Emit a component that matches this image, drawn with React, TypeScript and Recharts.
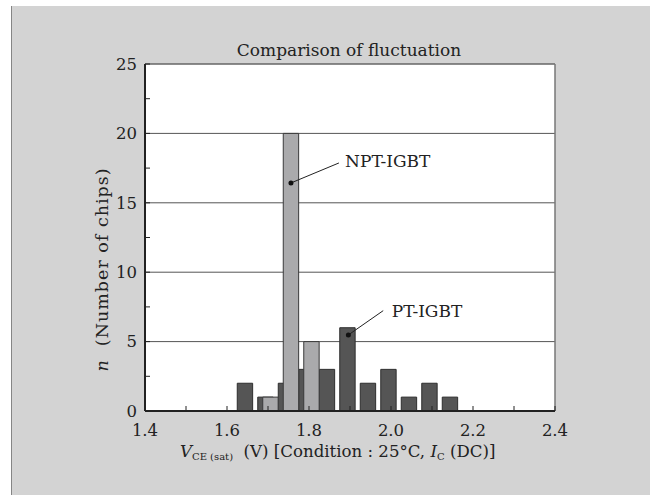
import React from 'react';
import { BarChart, Bar, XAxis, YAxis, CartesianGrid, ReferenceLine, ReferenceDot } from 'recharts';

const voltages = [1.65, 1.7, 1.75, 1.8, 1.85, 1.9, 1.95, 2.0, 2.05, 2.1, 2.15];
const ptCounts = [2, 1, 2, 3, 3, 6, 2, 3, 1, 2, 1];
const nptCounts: (number | null)[] = [null, 1, 20, 5, null, null, null, null, null, null, null];
const xTicks = [1.4, 1.5, 1.6, 1.7, 1.8, 1.9, 2.0, 2.1, 2.2, 2.3, 2.4];
const yTicks = [0, 2.5, 5, 7.5, 10, 12.5, 15, 17.5, 20, 22.5, 25];
const gridValues = [5, 10, 15, 20];
const titleText = 'Comparison of fluctuation';
const annotations = [
  { label: 'NPT-IGBT', dot: { x: 1.756, y: 16.43 }, end: { x: 1.873, y: 17.87 }, text: { x: 1.888, y: 17.58 } },
  { label: 'PT-IGBT', dot: { x: 1.896, y: 5.48 }, end: { x: 1.981, y: 7.23 }, text: { x: 2.002, y: 6.79 } },
];

const data = voltages.map((v, i) => ({ v, pt: ptCounts[i], npt: nptCounts[i] }));

const FONT = '"DejaVu Serif", serif';
const TEXT = '#222';

const fmtX = (t: number) => (Math.round(t * 10) % 2 === 0 ? t.toFixed(1) : '');
const fmtY = (t: number) => (t % 5 === 0 ? String(t) : '');

const XTitle = (props: any) => {
  const vb = props.viewBox || { x: 0, y: 0, width: 0, height: 0 };
  return (
    <text x={vb.x + 35} y={vb.y + 46} fontFamily={FONT} fontSize={16.6} fill={TEXT} style={{ whiteSpace: 'pre' }}>
      <tspan fontStyle="italic">V</tspan>
      <tspan fontSize={10} dy={3}>{'CE (sat)'}</tspan>
      <tspan dy={-3}>{'  (V) [Condition : 25°C, '}</tspan>
      <tspan fontStyle="italic">I</tspan>
      <tspan fontSize={10} dy={3}>C</tspan>
      <tspan dy={-3}>{' (DC)]'}</tspan>
    </text>
  );
};

const YTitle = (props: any) => {
  const vb = props.viewBox || { x: 0, y: 0, width: 0, height: 0 };
  const cx = vb.x + 17;
  const cy = vb.y + vb.height / 2 + 32;
  return (
    <text x={cx} y={cy} transform={`rotate(-90, ${cx}, ${cy})`} textAnchor="middle" dominantBaseline="central"
      fontFamily={FONT} fontSize={17.5} letterSpacing={1} fill={TEXT} style={{ whiteSpace: 'pre' }}>
      <tspan fontStyle="italic">n</tspan>
      <tspan>{'  (Number of chips)'}</tspan>
    </text>
  );
};

const labelShape = (text: string) => (p: any) => (
  <text x={p.cx} y={p.cy} fontFamily={FONT} fontSize={17} fill={TEXT}>{text}</text>
);

export default function App() {
  return (
    <div style={{ position: 'absolute', left: 0, top: 0, width: 650, height: 495, background: '#fff' }}>
      <div style={{ position: 'absolute', left: 11, top: 6, width: 638, height: 489, background: '#d3d3d3', borderLeft: '1px solid #858585' }} />
      <div style={{ position: 'absolute', left: 0, top: 40, width: 650, textAlign: 'center', fontFamily: FONT, fontSize: 17, lineHeight: 'normal', color: TEXT }}>
        <span style={{ position: 'relative', left: 24 }}>{titleText}</span>
      </div>
      <div style={{ position: 'absolute', left: 0, top: 0 }}>
        <BarChart width={650} height={495} data={data} margin={{ top: 64, right: 95, bottom: 54, left: 85 }}
          barSize={15.4} barGap={-10.4}>
          <CartesianGrid horizontal={true} vertical={false} horizontalValues={gridValues} stroke="#555" strokeWidth={1} fill="#ffffff" fillOpacity={1} />
          <XAxis dataKey="v" type="number" domain={[1.4, 2.4]} ticks={xTicks} interval={0} allowDataOverflow
            tickFormatter={fmtX} tickSize={-5} tickMargin={18} height={30}
            axisLine={{ stroke: '#222', strokeWidth: 2 }} tickLine={{ stroke: '#222', strokeWidth: 1 }}
            tick={{ fontFamily: FONT, fontSize: 16.5, fill: TEXT }} label={{ content: XTitle }} />
          <YAxis type="number" domain={[0, 25]} ticks={yTicks} interval={0} allowDataOverflow
            tickFormatter={fmtY} tickSize={-5} tickMargin={13} width={60}
            axisLine={{ stroke: '#222', strokeWidth: 2 }} tickLine={{ stroke: '#222', strokeWidth: 1 }}
            tick={{ fontFamily: FONT, fontSize: 16.5, fill: TEXT }} label={{ content: YTitle }} />
          <ReferenceLine y={25} stroke="#666" strokeWidth={1.5} ifOverflow="extendDomain" />
          <ReferenceLine x={2.4} stroke="#777" strokeWidth={1.5} ifOverflow="extendDomain" />
          <Bar dataKey="pt" fill="#555555" stroke="#2e2e2e" strokeWidth={1} isAnimationActive={false} />
          <Bar dataKey="npt" fill="#aaaaac" stroke="#3a3a3a" strokeWidth={1} isAnimationActive={false} />
          {annotations.map((a) => (
            <ReferenceLine key={a.label + 'l'} segment={[a.dot, a.end]} stroke="#222" strokeWidth={1} ifOverflow="visible" />
          ))}
          {annotations.map((a) => (
            <ReferenceDot key={a.label + 'd'} x={a.dot.x} y={a.dot.y} r={2.5} fill="#111" stroke="none" ifOverflow="visible" />
          ))}
          {annotations.map((a) => (
            <ReferenceDot key={a.label + 't'} x={a.text.x} y={a.text.y} r={0} ifOverflow="visible" shape={labelShape(a.label)} />
          ))}
        </BarChart>
      </div>
    </div>
  );
}
